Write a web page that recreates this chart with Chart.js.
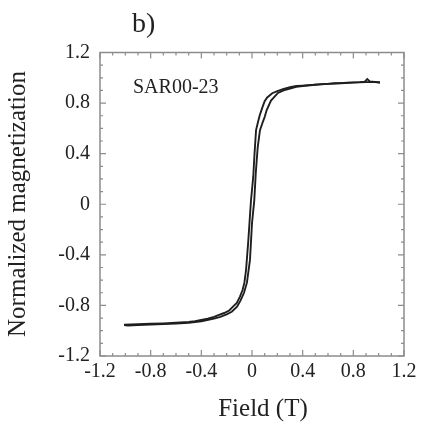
<!DOCTYPE html>
<html>
<head>
<meta charset="utf-8">
<script src="https://cdn.jsdelivr.net/npm/chart.js@4"></script>
<style>
  html, body { margin: 0; padding: 0; background: #fff; }
  #wrap { width: 429px; height: 428px; }
</style>
</head>
<body>
<div id="wrap"><canvas id="myChart" width="429" height="428"></canvas></div>
<script>
// descending branch (from +saturation down)
const downField = [1.01, 0.97, 0.93, 0.91, 0.89, 0.85, 0.80, 0.75, 0.70, 0.65, 0.60, 0.55, 0.50, 0.45, 0.40, 0.35, 0.30, 0.25, 0.20, 0.16, 0.12, 0.10, 0.08, 0.06, 0.045, 0.032, 0.02, 0.01, -0.008, -0.02, -0.03, -0.047, -0.06, -0.075, -0.095, -0.12, -0.15, -0.18, -0.22, -0.26, -0.30, -0.35, -0.40, -0.45, -0.50, -0.60, -0.70, -0.80, -0.90, -1.01];
const downMag = [0.963, 0.968, 0.972, 0.99, 0.97, 0.966, 0.964, 0.962, 0.958, 0.957, 0.952, 0.950, 0.946, 0.942, 0.938, 0.935, 0.925, 0.912, 0.895, 0.878, 0.845, 0.815, 0.76, 0.70, 0.64, 0.586, 0.40, 0.22, 0.03, -0.15, -0.30, -0.52, -0.62, -0.68, -0.73, -0.78, -0.81, -0.84, -0.86, -0.875, -0.89, -0.905, -0.915, -0.925, -0.93, -0.937, -0.942, -0.945, -0.948, -0.953];

// ascending branch (from -saturation up)
const upField = [-1.01, -0.98, -0.90, -0.80, -0.70, -0.60, -0.50, -0.40, -0.30, -0.25, -0.20, -0.16, -0.118, -0.09, -0.063, -0.04, -0.016, 0.0, 0.018, 0.03, 0.045, 0.063, 0.085, 0.10, 0.116, 0.15, 0.205, 0.25, 0.30, 0.35, 0.40, 0.50, 0.60, 0.70, 0.80, 0.90, 0.95, 1.01];
const upMag = [-0.955, -0.96, -0.955, -0.952, -0.948, -0.944, -0.938, -0.925, -0.905, -0.89, -0.87, -0.85, -0.81, -0.76, -0.70, -0.62, -0.44, -0.15, 0.03, 0.25, 0.45, 0.586, 0.65, 0.69, 0.745, 0.82, 0.88, 0.90, 0.915, 0.928, 0.935, 0.945, 0.952, 0.957, 0.962, 0.966, 0.968, 0.963];

const xTickVals = [-1.2, -0.8, -0.4, 0, 0.4, 0.8, 1.2];
const xTickLabels = ['-1.2', '-0.8', '-0.4', '0', '0.4', '0.8', '1.2'];
const yTickVals = [-1.2, -0.8, -0.4, 0, 0.4, 0.8, 1.2];
const yTickLabels = ['-1.2', '-0.8', '-0.4', '0', '0.4', '0.8', '1.2'];

const toPts = (xs, ys) => xs.map((x, i) => ({ x: x, y: ys[i] }));

const serif = "'Liberation Serif', 'DejaVu Serif', serif";
const axisGray = '#8c8c8c';

// frame + inward ticks + free text
const framePlugin = {
  id: 'frame',
  afterDraw(chart) {
    const c = chart.ctx, a = chart.chartArea;
    const xs = chart.scales.x, ys = chart.scales.y;
    c.save();
    c.strokeStyle = axisGray;
    c.lineWidth = 1.5;
    c.strokeRect(a.left, a.top, a.right - a.left, a.bottom - a.top);
    c.lineWidth = 1.2;
    for (let k = -12; k <= 12; k++) {
      const v = k / 10;
      const len = (k % 4 === 0) ? 6 : 3;
      const px = xs.getPixelForValue(v);
      const py = ys.getPixelForValue(v);
      c.beginPath();
      c.moveTo(px, a.bottom); c.lineTo(px, a.bottom - len);
      c.moveTo(px, a.top); c.lineTo(px, a.top + len);
      c.moveTo(a.left, py); c.lineTo(a.left + len, py);
      c.moveTo(a.right, py); c.lineTo(a.right - len, py);
      c.stroke();
    }
    c.fillStyle = '#222';
    c.textBaseline = 'middle';
    c.textAlign = 'left';
    c.font = '20px ' + serif;
    c.fillText('SAR00-23', 133, 88);
    c.font = '28px ' + serif;
    c.fillText('b)', 132, 25);
    c.textAlign = 'center';
    c.font = '25px ' + serif;
    c.fillText('Field (T)', 263, 409);
    c.translate(18, 204);
    c.rotate(-Math.PI / 2);
    c.fillText('Normalized magnetization', 0, 0);
    c.restore();
  }
};

const ctx = document.getElementById('myChart').getContext('2d');
const myChart = new Chart(ctx, {
  type: 'scatter',
  data: {
    datasets: [{
      label: 'descending',
      data: toPts(downField, downMag),
      showLine: true,
      borderColor: '#1e1e1e',
      borderWidth: 1.9,
      pointRadius: 0,
      tension: 0
    }, {
      label: 'ascending',
      data: toPts(upField, upMag),
      showLine: true,
      borderColor: '#1e1e1e',
      borderWidth: 1.9,
      pointRadius: 0,
      tension: 0
    }]
  },
  options: {
    responsive: false,
    animation: false,
    layout: { padding: { top: 52.5, right: 25, left: 0, bottom: 0 } },
    plugins: { legend: { display: false }, tooltip: { enabled: false } },
    scales: {
      x: {
        min: -1.2, max: 1.2,
        afterFit: s => { s.height = 72; },
        afterBuildTicks: s => { s.ticks = xTickVals.map(v => ({ value: v })); },
        grid: { display: false, drawTicks: false },
        border: { display: false },
        ticks: {
          padding: 4,
          color: '#222',
          font: { family: serif, size: 20 },
          maxRotation: 0,
          callback: (v, i) => xTickLabels[i]
        }
      },
      y: {
        min: -1.2, max: 1.2,
        afterFit: s => { s.width = 100; },
        afterBuildTicks: s => { s.ticks = yTickVals.map(v => ({ value: v })); },
        grid: { display: false, drawTicks: false },
        border: { display: false },
        ticks: {
          padding: 10,
          color: '#222',
          font: { family: serif, size: 20 },
          callback: (v, i) => yTickLabels[i]
        }
      }
    }
  },
  plugins: [framePlugin]
});
</script>
</body>
</html>
